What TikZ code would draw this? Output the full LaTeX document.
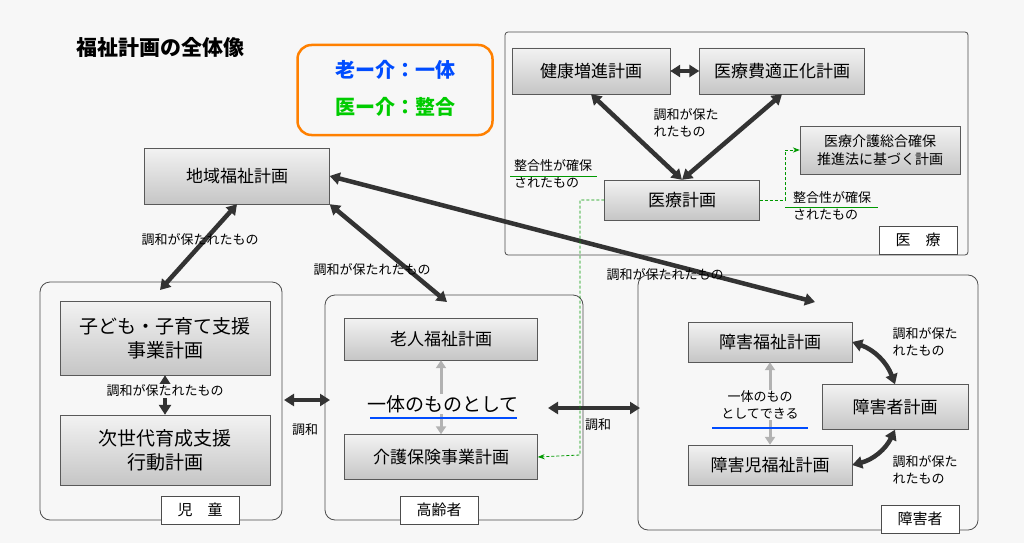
\documentclass[tikz,border=0pt]{standalone}
\usepackage{fontspec}
\setmainfont{Noto Sans CJK JP}
\usetikzlibrary{shapes, arrows, arrows.meta, positioning, shadows}

\begin{document}
\begin{tikzpicture}[x=1pt, y=-1pt,
        plan/.style={draw=gray!70!black, top color=gray!10, bottom color=gray!45, font=\fontsize{17}{20}\selectfont, inner sep=2pt, align=center},
        region/.style={draw=gray!60!black, rounded corners=10pt, thick},
        tag/.style={draw=gray!60!black, fill=white, font=\fontsize{15}{18}\selectfont, minimum width=78pt, minimum height=28pt},
        note/.style={font=\fontsize{13}{17}\selectfont, align=left},
        link/.style={{Triangle[length=10pt,width=12pt]}-{Triangle[length=10pt,width=12pt]}, line width=4.5pt, draw=black!80},
        inner/.style={{Triangle[length=8pt,width=10pt]}-{Triangle[length=8pt,width=10pt]}, line width=3pt, draw=gray!60},
        match/.style={-{Stealth[length=7pt]}, densely dashed, thick, draw=green!60!black}
    ]
        \useasboundingbox[fill=gray!6] (0,0) rectangle (1024,543);

        % Title and key
        \node[font=\fontsize{21}{24}\selectfont\bfseries] (title) at (160,47) {福祉計画の全体像};
        \node[draw=orange, line width=2.5pt, rounded corners=14pt, minimum width=195pt, minimum height=90pt] (key) at (395,90) {};
        \node[font=\fontsize{20}{24}\selectfont\bfseries, text=blue!70!cyan] (kaigo) at (395,70) {老ー介：一体};
        \node[font=\fontsize{20}{24}\selectfont\bfseries, text=green!80!black] (iryo) at (395,107) {医ー介：整合};

        % Medical area
        \draw[region, rounded corners=3pt] (505,32) rectangle (968,255);
        \node[tag] (medtag) at (918,240) {医\quad 療};
        \node[plan, minimum width=158pt, minimum height=46pt] (kenko) at (591,71) {健康増進計画};
        \node[plan, minimum width=165pt, minimum height=46pt] (tekisei) at (782,71) {医療費適正化計画};
        \node[plan, minimum width=155pt, minimum height=40pt] (med) at (682,200) {医療計画};
        \node[plan, minimum width=160pt, minimum height=48pt, font=\fontsize{14}{18}\selectfont] (sogo) at (880,150) {医療介護総合確保\\推進法に基づく計画};
        \draw[link] (kenko) -- (tekisei);
        \draw[link] (kenko.south) -- (med.north);
        \draw[link] (tekisei.south) -- (med.north);
        \node[note] (medhar) at (686,123) {調和が保た\\れたもの};
        \node[note] (medl) at (553,174) {整合性が確保\\されたもの};
        \draw[green!60!black, thick] (510,176) -- (597,176);
        \node[note] (medr) at (832,206) {整合性が確保\\されたもの};
        \draw[green!60!black, thick] (785,207) -- (878,207);

        % Community plan
        \node[plan, minimum width=185pt, minimum height=56pt] (chiiki) at (237,176) {地域福祉計画};

        % Children area
        \draw[region] (40,282) rectangle (282,520);
        \node[tag] (kidtag) at (200,510) {児\quad 童};
        \node[plan, minimum width=210pt, minimum height=74pt, font=\fontsize{19}{24}\selectfont] (kodomo) at (165,338) {子ども・子育て支援\\事業計画};
        \node[plan, minimum width=210pt, minimum height=70pt, font=\fontsize{19}{24}\selectfont] (jisedai) at (165,450) {次世代育成支援\\行動計画};
        \draw[link] (kodomo) -- (jisedai);
        \node[note, fill=gray!6, inner sep=1pt] (kidhar) at (165,391) {調和が保たれたもの};

        % Elderly area
        \draw[region] (325,295) rectangle (583,520);
        \node[tag] (oldtag) at (439,510) {高齢者};
        \node[plan, minimum width=193pt, minimum height=42pt] (rojin) at (441,339) {老人福祉計画};
        \node[plan, minimum width=193pt, minimum height=45pt] (hoken) at (441,457) {介護保険事業計画};
        \draw[inner] (rojin) -- (hoken);
        \node[font=\fontsize{19}{22}\selectfont, fill=gray!6, inner sep=1pt] (ittai) at (443,404) {一体のものとして};
        \draw[blue!70!cyan, very thick] (370,418) -- (517,418);

        % Disability area
        \draw[region] (638,275) rectangle (978,530);
        \node[tag] (distag) at (920,519) {障害者};
        \node[plan, minimum width=164pt, minimum height=40pt] (fukushi) at (770,342) {障害福祉計画};
        \node[plan, minimum width=146pt, minimum height=45pt] (shogai) at (895,407) {障害者計画};
        \node[plan, minimum width=164pt, minimum height=40pt] (jido) at (770,465) {障害児福祉計画};
        \draw[inner] (fukushi) -- (jido);
        \node[note, align=center, fill=gray!6, inner sep=1pt] (dekiru) at (760,405) {一体のもの\\としてできる};
        \draw[blue!70!cyan, very thick] (712,428) -- (808,428);
        \draw[link] (fukushi.east) to[bend left=25] (shogai.north);
        \draw[link] (shogai.south) to[bend left=25] (jido.east);
        \node[note] (dishar1) at (925,342) {調和が保た\\れたもの};
        \node[note] (dishar2) at (925,470) {調和が保た\\れたもの};

        % Links between areas
        \coordinate (kidtop) at (160,290);
        \coordinate (oldtop) at (447,302);
        \coordinate (distop) at (815,302);
        \draw[link] (chiiki.south) -- (kidtop);
        \node[note] (h1) at (200,240) {調和が保たれたもの};
        \draw[link] (chiiki.south east) -- (oldtop);
        \node[note] (h2) at (372,270) {調和が保たれたもの};
        \draw[link] (chiiki.east) -- (distop);
        \node[note] (h3) at (665,275) {調和が保たれたもの};
        \coordinate (kidr) at (284,400);
        \coordinate (oldl) at (330,400);
        \draw[link] (kidr) -- (oldl);
        \node[note] (c1) at (305,430) {調和};
        \coordinate (oldr) at (548,408);
        \coordinate (disl) at (640,408);
        \draw[link] (oldr) -- (disl);
        \node[note] (c2) at (598,425) {調和};

        % Consistency links
        \draw[match] (med.west) -| (580,455) -- (hoken.east);
        \draw[match] (med.east) -| (785,150) -- (sogo.west);
    \end{tikzpicture}
\end{document}
